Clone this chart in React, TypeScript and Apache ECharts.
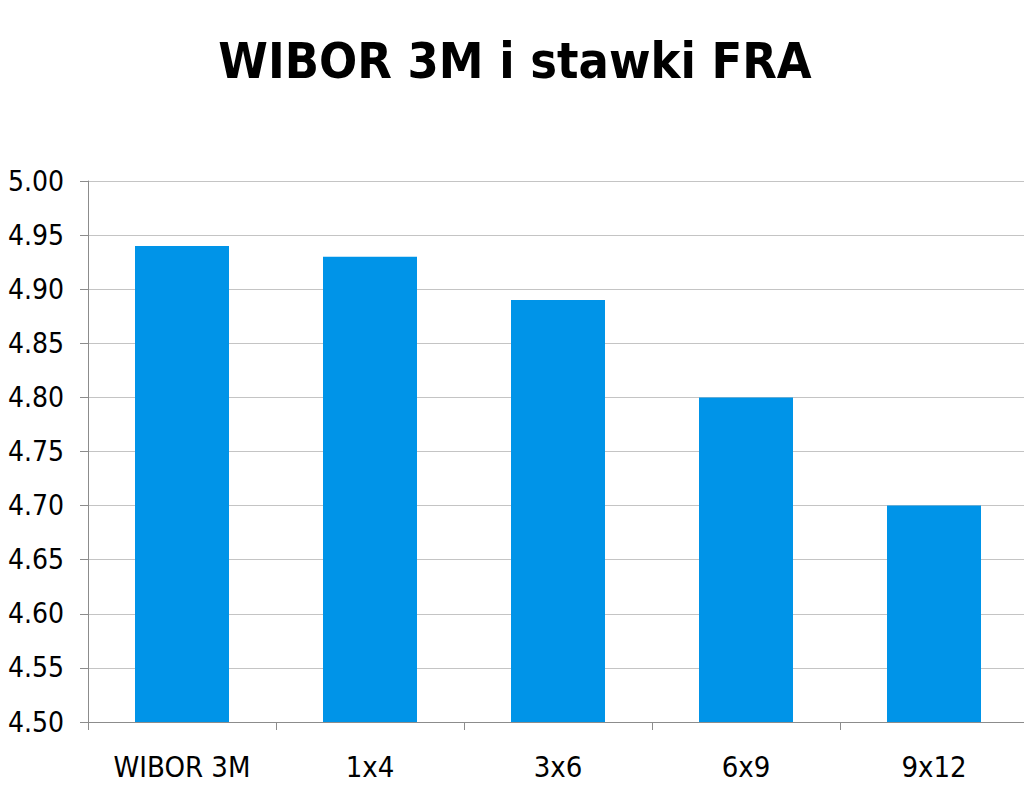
import * as echarts from 'echarts';
import React, { useEffect, useRef } from 'react';

const categories = ['WIBOR 3M', '1x4', '3x6', '6x9', '9x12'];
const rates = [4.94, 4.93, 4.89, 4.8, 4.7];

const FONT = "'DejaVu Sans Condensed', 'DejaVu Sans', sans-serif";

export default function App(): React.ReactElement {
  const containerRef = useRef<HTMLDivElement>(null);

  useEffect(() => {
    if (!containerRef.current) {
      return;
    }

    const chart = echarts.init(containerRef.current, null, { renderer: 'svg' });

    chart.setOption({
      animation: false,
      backgroundColor: '#ffffff',
      title: {
        text: 'WIBOR 3M i stawki FRA',
        left: 510,
        textAlign: 'center',
        top: 31,
        textStyle: { fontFamily: FONT, fontSize: 50, fontWeight: 'bold', color: '#000000' },
      },
      // plot area runs a few pixels past the right edge of the picture
      grid: { left: 88, top: 181, right: 0, bottom: 69, containLabel: false },
      xAxis: {
        type: 'category',
        data: categories,
        axisLine: { lineStyle: { color: '#8c8c8c', width: 1 } },
        axisTick: { show: true, length: 8, alignWithLabel: false, lineStyle: { color: '#8c8c8c' } },
        axisLabel: { color: '#000000', fontFamily: FONT, fontSize: 29, margin: 30 },
      },
      yAxis: {
        type: 'value',
        min: 4.5,
        max: 5.0,
        interval: 0.05,
        axisLine: { show: true, lineStyle: { color: '#8c8c8c', width: 1 } },
        axisTick: { show: true, length: 8, lineStyle: { color: '#8c8c8c' } },
        axisLabel: {
          color: '#000000',
          fontFamily: FONT,
          fontSize: 28,
          margin: 24,
          formatter: (v: number) => v.toFixed(2),
        },
        splitLine: { lineStyle: { color: '#c4c4c4', width: 1 } },
      },
      series: [
        {
          type: 'bar',
          data: rates,
          barWidth: '50%',
          itemStyle: { color: '#0094e8' },
        },
      ],
    });

    return () => {
      chart.dispose();
    };
  }, []);

  return (
    <div style={{ position: 'absolute', left: 0, top: 0, width: 1024, height: 791, overflow: 'hidden' }}>
      <div ref={containerRef} style={{ width: 1028, height: 791 }} />
    </div>
  );
}
